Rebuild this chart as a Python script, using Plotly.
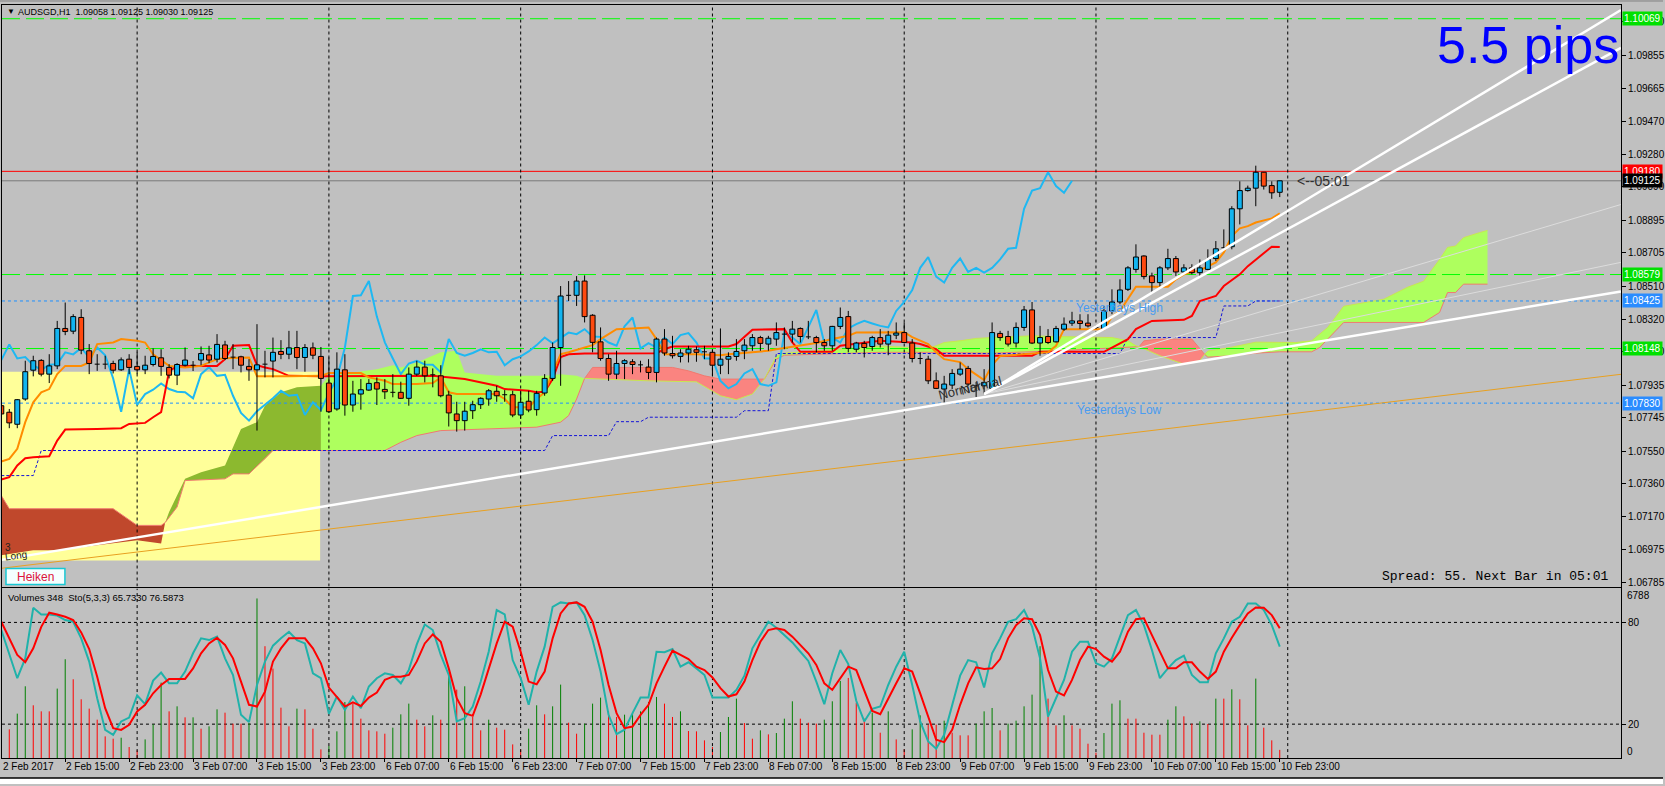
import plotly.graph_objects as go

# ---- candles (AUDSGD H1, bar 0 = 2 Feb 2017 07:00) ----
OPEN = [1.07815, 1.07777, 1.07707, 1.07854, 1.08022, 1.08079, 1.07999, 1.08047, 1.08265, 1.08249,
        1.08329, 1.08135, 1.08057, 1.08057, 1.08061, 1.08024, 1.08086, 1.08044, 1.08024, 1.08055,
        1.08094, 1.08038, 1.07993, 1.08051, 1.08051, 1.08081, 1.08111, 1.08086, 1.08169, 1.08098,
        1.08100, 1.08044, 1.08024, 1.08057, 1.08075, 1.08131, 1.08115, 1.08154, 1.08096, 1.08152,
        1.08102, 1.07947, 1.07796, 1.08024, 1.07819, 1.07883, 1.07906, 1.07949, 1.07910, 1.07893,
        1.07893, 1.07858, 1.07999, 1.08040, 1.07995, 1.07989, 1.07877, 1.07767, 1.07728, 1.07786,
        1.07821, 1.07854, 1.07899, 1.07879, 1.07879, 1.07761, 1.07841, 1.07792, 1.07889, 1.07974,
        1.08154, 1.08458, 1.08458, 1.08541, 1.08342, 1.08187, 1.08090, 1.07999, 1.08061, 1.08071,
        1.08053, 1.08040, 1.08009, 1.08203, 1.08119, 1.08102, 1.08122, 1.08141, 1.08129, 1.08126,
        1.08051, 1.08086, 1.08102, 1.08135, 1.08164, 1.08212, 1.08174, 1.08203, 1.08232, 1.08232,
        1.08265, 1.08216, 1.08212, 1.08183, 1.08164, 1.08277, 1.08334, 1.08144, 1.08178, 1.08160,
        1.08212, 1.08174, 1.08226, 1.08241, 1.08180, 1.08090, 1.08086, 1.07960, 1.07912, 1.07935,
        1.07999, 1.08032, 1.07931, 1.07931, 1.07916, 1.08236, 1.08218, 1.08180, 1.08271, 1.08373,
        1.08180, 1.08218, 1.08187, 1.08261, 1.08296, 1.08309, 1.08296, 1.08271, 1.08265, 1.08367,
        1.08419, 1.08493, 1.08609, 1.08687, 1.08571, 1.08532, 1.08618, 1.08672, 1.08594, 1.08618,
        1.08590, 1.08609, 1.08672, 1.08735, 1.08741, 1.08962, 1.09068, 1.09082, 1.09175, 1.09097,
        1.09058]
HIGH = [1.07895, 1.07796, 1.07854, 1.08077, 1.08106, 1.08086, 1.08115, 1.08309, 1.08416, 1.08348,
        1.08377, 1.08174, 1.08115, 1.08106, 1.08077, 1.08096, 1.08115, 1.08129, 1.08106, 1.08149,
        1.08144, 1.08057, 1.08063, 1.08154, 1.08075, 1.08160, 1.08164, 1.08232, 1.08193, 1.08174,
        1.08106, 1.08086, 1.08290, 1.08135, 1.08212, 1.08197, 1.08251, 1.08251, 1.08174, 1.08183,
        1.08157, 1.08096, 1.08126, 1.08115, 1.07960, 1.07970, 1.07970, 1.07980, 1.07970, 1.07999,
        1.07955, 1.08038, 1.08077, 1.08077, 1.08032, 1.08051, 1.07902, 1.07838, 1.07838, 1.07844,
        1.07864, 1.07912, 1.07931, 1.07906, 1.07902, 1.07902, 1.07902, 1.07902, 1.07999, 1.08183,
        1.08512, 1.08541, 1.08570, 1.08574, 1.08348, 1.08271, 1.08115, 1.08135, 1.08086, 1.08086,
        1.08077, 1.08086, 1.08212, 1.08261, 1.08222, 1.08144, 1.08164, 1.08160, 1.08164, 1.08144,
        1.08265, 1.08126, 1.08203, 1.08203, 1.08232, 1.08222, 1.08222, 1.08300, 1.08271, 1.08309,
        1.08271, 1.08309, 1.08222, 1.08203, 1.08280, 1.08387, 1.08367, 1.08187, 1.08193, 1.08222,
        1.08261, 1.08251, 1.08300, 1.08300, 1.08203, 1.08126, 1.08106, 1.08009, 1.07989, 1.08028,
        1.08067, 1.08047, 1.07953, 1.08028, 1.08300, 1.08251, 1.08251, 1.08300, 1.08396, 1.08419,
        1.08280, 1.08261, 1.08280, 1.08329, 1.08362, 1.08348, 1.08348, 1.08280, 1.08396, 1.08493,
        1.08551, 1.08628, 1.08755, 1.08691, 1.08590, 1.08628, 1.08729, 1.08687, 1.08639, 1.08639,
        1.08667, 1.08726, 1.08774, 1.08842, 1.08977, 1.09122, 1.09097, 1.09213, 1.09175, 1.09122,
        1.09125]
LOW = [1.07757, 1.07684, 1.07684, 1.07844, 1.07986, 1.07986, 1.07947, 1.08028, 1.08226, 1.08232,
       1.08115, 1.07999, 1.08018, 1.08028, 1.08003, 1.08018, 1.07999, 1.07999, 1.07999, 1.08044,
       1.07989, 1.07974, 1.07935, 1.08044, 1.08017, 1.08051, 1.08063, 1.08067, 1.08081, 1.08028,
       1.08009, 1.07960, 1.07670, 1.07980, 1.07980, 1.08086, 1.08086, 1.08028, 1.08013, 1.08086,
       1.07780, 1.07773, 1.07786, 1.07757, 1.07780, 1.07792, 1.07902, 1.07819, 1.07854, 1.07864,
       1.07854, 1.07815, 1.07989, 1.07951, 1.07922, 1.07864, 1.07694, 1.07664, 1.07670, 1.07738,
       1.07796, 1.07815, 1.07838, 1.07838, 1.07748, 1.07738, 1.07777, 1.07757, 1.07873, 1.07960,
       1.07931, 1.08425, 1.08396, 1.08300, 1.08126, 1.08077, 1.07960, 1.07970, 1.07970, 1.07999,
       1.08009, 1.07970, 1.07951, 1.08106, 1.08090, 1.08067, 1.08067, 1.08071, 1.08086, 1.07989,
       1.07999, 1.07999, 1.08077, 1.08086, 1.08135, 1.08135, 1.08135, 1.08164, 1.08144, 1.08183,
       1.08183, 1.08203, 1.08126, 1.08135, 1.08135, 1.08261, 1.08126, 1.08126, 1.08096, 1.08135,
       1.08154, 1.08109, 1.08203, 1.08180, 1.08067, 1.08057, 1.07941, 1.07912, 1.07825, 1.07912,
       1.07989, 1.07931, 1.07866, 1.07883, 1.07912, 1.08193, 1.08160, 1.08154, 1.08251, 1.08174,
       1.08106, 1.08174, 1.08183, 1.08251, 1.08280, 1.08261, 1.08271, 1.08261, 1.08261, 1.08348,
       1.08406, 1.08483, 1.08590, 1.08551, 1.08470, 1.08509, 1.08605, 1.08571, 1.08580, 1.08580,
       1.08567, 1.08605, 1.08658, 1.08726, 1.08726, 1.08871, 1.09062, 1.08977, 1.09074, 1.09020,
       1.09030]
CLOSE = [1.07767, 1.07715, 1.07850, 1.08013, 1.08077, 1.07999, 1.08047, 1.08265, 1.08247, 1.08334,
         1.08139, 1.08061, 1.08057, 1.08057, 1.08022, 1.08082, 1.08038, 1.08024, 1.08051, 1.08102,
         1.08044, 1.07993, 1.08055, 1.08081, 1.08051, 1.08119, 1.08081, 1.08172, 1.08090, 1.08098,
         1.08051, 1.08024, 1.08053, 1.08057, 1.08126, 1.08114, 1.08152, 1.08096, 1.08154, 1.08109,
         1.07974, 1.07780, 1.08028, 1.07819, 1.07883, 1.07908, 1.07945, 1.07912, 1.07896, 1.07893,
         1.07858, 1.07999, 1.08040, 1.07989, 1.07995, 1.07873, 1.07773, 1.07728, 1.07783, 1.07821,
         1.07858, 1.07902, 1.07873, 1.07879, 1.07761, 1.07835, 1.07790, 1.07887, 1.07974, 1.08154,
         1.08454, 1.08458, 1.08541, 1.08334, 1.08184, 1.08090, 1.07999, 1.08061, 1.08077, 1.08055,
         1.08053, 1.08009, 1.08203, 1.08122, 1.08106, 1.08122, 1.08144, 1.08126, 1.08129, 1.08051,
         1.08086, 1.08102, 1.08131, 1.08168, 1.08212, 1.08178, 1.08208, 1.08241, 1.08232, 1.08261,
         1.08218, 1.08216, 1.08183, 1.08164, 1.08277, 1.08329, 1.08149, 1.08180, 1.08154, 1.08212,
         1.08174, 1.08226, 1.08238, 1.08183, 1.08090, 1.08090, 1.07960, 1.07916, 1.07941, 1.08003,
         1.08028, 1.07941, 1.07931, 1.07951, 1.08241, 1.08212, 1.08174, 1.08271, 1.08373, 1.08180,
         1.08212, 1.08183, 1.08265, 1.08290, 1.08309, 1.08294, 1.08280, 1.08271, 1.08367, 1.08419,
         1.08489, 1.08618, 1.08681, 1.08567, 1.08532, 1.08618, 1.08672, 1.08594, 1.08618, 1.08590,
         1.08618, 1.08667, 1.08729, 1.08735, 1.08962, 1.09068, 1.09082, 1.09175, 1.09094, 1.09055,
         1.09125]

# ---- ichimoku lines (bar index, price) ----
TENKAN_BAR = [0, 1, 2, 3, 4, 5, 6, 7, 8, 10, 11, 12, 14, 15, 17, 18, 19, 21, 23, 25, 27, 28, 31, 32, 36,
              40, 41, 45, 46, 48, 49, 52, 54, 55, 56, 57, 62, 63, 64, 66, 67, 68, 69, 70, 71, 73, 74, 75,
              76, 77, 79, 81, 82, 83, 87, 90, 91, 96, 97, 100, 102, 104, 106, 107, 113, 114, 116, 117,
              118, 120, 121, 123, 124, 125, 128, 131, 132, 133, 138, 139, 140, 141, 142, 146, 147, 148,
              150, 152, 153, 154, 155, 156, 157, 159, 160]
TENKAN = [1.07490, 1.07505, 1.07564, 1.07719, 1.07835, 1.07893, 1.07912, 1.07999, 1.08047,
          1.08047, 1.08067, 1.08174, 1.08183, 1.08203, 1.08193, 1.08183, 1.08115,
          1.08047, 1.08038, 1.08047, 1.08086, 1.08092, 1.08096, 1.07986, 1.07986,
          1.07989, 1.08005, 1.08005, 1.07980, 1.07960, 1.07941, 1.07941,
          1.07947, 1.07980, 1.07893, 1.07883, 1.07883, 1.07854, 1.07806, 1.07806,
          1.07854, 1.07893, 1.08009, 1.08115, 1.08126, 1.08154, 1.08168, 1.08203, 1.08232, 1.08261,
          1.08265, 1.08271, 1.08203, 1.08115, 1.08115, 1.08109, 1.08115, 1.08135, 1.08144,
          1.08164, 1.08180, 1.08203, 1.08222, 1.08241, 1.08243, 1.08214, 1.08174, 1.08127, 1.08086,
          1.08069, 1.08028, 1.07964, 1.08051, 1.08104, 1.08115, 1.08126, 1.08164, 1.08261,
          1.08261, 1.08333, 1.08367, 1.08441, 1.08508, 1.08508, 1.08551, 1.08580, 1.08603,
          1.08650, 1.08708, 1.08803, 1.08848, 1.08861, 1.08882, 1.08906, 1.08935]

KIJUN_BAR = [0, 1, 2, 3, 4, 6, 7, 8, 12, 15, 16, 18, 19, 20, 21, 22, 23, 27, 28, 29, 31, 32, 33, 34, 36,
             40, 54, 58, 62, 63, 66, 67, 68, 69, 70, 71, 73, 82, 83, 84, 91, 92, 94, 98, 99, 100, 104,
             105, 110, 114, 115, 117, 118, 129, 130, 138, 139, 141, 142, 144, 148, 149, 150, 152, 153,
             155, 156, 158, 159, 160]
KIJUN = [1.07385, 1.07399, 1.07467, 1.07509, 1.07515, 1.07521, 1.07612, 1.07676,
         1.07680, 1.07684, 1.07709, 1.07715, 1.07748, 1.07778, 1.08017, 1.08046, 1.08047,
         1.08047, 1.08086, 1.08164, 1.08168, 1.08051, 1.08038, 1.08028, 1.07989,
         1.07986, 1.07989, 1.07970, 1.07931, 1.07912, 1.07902, 1.07893, 1.07896, 1.07970, 1.08098, 1.08115,
         1.08119, 1.08121, 1.08144, 1.08160, 1.08160, 1.08174, 1.08257, 1.08261, 1.08183, 1.08129,
         1.08129, 1.08164, 1.08193, 1.08183, 1.08174, 1.08144, 1.08106,
         1.08106, 1.08129, 1.08129, 1.08154, 1.08203, 1.08261, 1.08309, 1.08315, 1.08338, 1.08425,
         1.08454, 1.08512, 1.08580, 1.08628, 1.08706, 1.08741, 1.08739]

CHIKOU_SHIFT = 26

SPAN_A_BAR = [0, 4, 7, 17, 20, 20.5, 21, 23, 25, 28, 30, 32, 33, 35, 37, 40, 41, 47, 49, 50,
              52, 55, 57, 58, 62, 68, 70, 72, 73, 81, 87, 90, 92, 94, 95, 95.5, 97, 98, 110, 116,
              117, 118, 120, 122, 124, 129, 132, 136, 139, 141, 142, 142.4, 145, 148, 150, 150.6,
              151, 154, 157, 162, 164, 165, 166, 168, 170, 173, 176, 178, 180, 181, 182, 183, 185, 186]
SPAN_A = [1.06944, 1.06973, 1.06973, 1.07031, 1.07012, 1.07134, 1.07196, 1.07389, 1.07428, 1.07467,
          1.07680, 1.07719, 1.07815, 1.07893, 1.07922, 1.07931, 1.07989, 1.08028, 1.08051, 1.08038,
          1.08067, 1.08126, 1.08135, 1.08009, 1.07989, 1.07989, 1.07999, 1.07989, 1.07974, 1.07960,
          1.07954, 1.07873, 1.07850, 1.07883, 1.07941, 1.07970, 1.08104, 1.08121, 1.08162, 1.08150,
          1.08164, 1.08183, 1.08193, 1.08207, 1.08212, 1.08222, 1.08218, 1.08216, 1.08212, 1.08193,
          1.08164, 1.08159, 1.08106, 1.08057, 1.08077, 1.08114, 1.08133, 1.08156, 1.08185, 1.08183,
          1.08193, 1.08232, 1.08271, 1.08394, 1.08412, 1.08435, 1.08505, 1.08540, 1.08667, 1.08737,
          1.08745, 1.08794, 1.08823, 1.08836]
SPAN_B_BAR = [0, 1, 14, 17, 20, 20.5, 22, 23, 28, 29, 31, 33, 34, 40, 48, 50, 52, 55, 62, 67,
              70, 71, 72, 73, 74, 84, 86, 88, 90, 95, 95.5, 97, 98, 110, 116, 124, 128, 132, 136, 139,
              142, 142.4, 143, 145, 149, 150, 150.6, 151, 154, 157, 160, 164, 165, 166, 168, 178, 179,
              180, 181, 182, 183, 186]
SPAN_B = [1.07292, 1.07215, 1.07215, 1.07118, 1.07118, 1.07134, 1.07225, 1.07379, 1.07389, 1.07418,
          1.07418, 1.07505, 1.07554, 1.07554, 1.07554, 1.07602, 1.07641, 1.07670, 1.07680, 1.07690,
          1.07719, 1.07757, 1.07854, 1.07974, 1.08038, 1.08038, 1.08018, 1.07989, 1.07970, 1.07970,
          1.07970, 1.08086, 1.08109, 1.08126, 1.08126, 1.08121, 1.08126, 1.08135, 1.08144, 1.08149,
          1.08154, 1.08159, 1.08193, 1.08203, 1.08203, 1.08144, 1.08114, 1.08098, 1.08106, 1.08121,
          1.08129, 1.08129, 1.08154, 1.08203, 1.08300, 1.08300, 1.08329, 1.08358, 1.08474, 1.08474,
          1.08523, 1.08523]
CLOUD_EDGES = [0, 20.5, 40, 73, 95.5, 142.4, 150.6, 186]
CLOUD_COLORS = ['#C0482C', '#8CB92F', '#AEFF5E', '#FA8480', '#AEFF5E', '#FA8480', '#AEFF5E']

# stepped dotted line (previous day range)
STEP_BAR = [0, 4, 5, 68, 69, 76, 77, 80, 81, 92, 93, 96, 97, 140, 141, 152, 153, 156, 157, 160]
STEP = [1.07408, 1.07408, 1.07554, 1.07554, 1.07641, 1.07641, 1.07722, 1.07722, 1.07748, 1.07748,
        1.07786, 1.07786, 1.08119, 1.08119, 1.08212, 1.08212, 1.08396, 1.08396, 1.08425, 1.08425]

# horizontal levels
LEVELS = [1.10069, 1.09180, 1.09125, 1.08579, 1.08425, 1.08148, 1.07830]
LEVEL_COLORS = ['#00FF00', '#FF0000', '#7A7A7A', '#00FF00', '#1E90FF', '#00FF00', '#1E90FF']
LEVEL_DASH = ['18px,6px', 'solid', 'solid', '18px,6px', '3px,3px', '18px,6px', '3px,3px']
LEVEL_BOX = ['#00E000', '#FF0000', '#000000', '#00E000', '#2A8CFF', '#00E000', '#2A8CFF']

# trend lines: (bar, price) end points
TREND_MAIN_BAR = [0, 202.7]
TREND_MAIN = [1.06917, 1.08480]
TREND_ORANGE_BAR = [0, 202.7]
TREND_ORANGE = [1.06868, 1.07998]
FAN_BAR = [123, 202.7]
FAN_ORIGIN = 1.07883
FAN_THICK_END = [1.10120, 1.09899]
FAN_THIN_END = [1.08987, 1.08650]

# rectangle object at the left
BOX_BARS = [-1, 39.9]
BOX_PRICES = [1.06914, 1.08013]

# ---- volumes and stochastic (5,3,3) ----
VOLUME = [1392, 1221, 1889, 3053, 2244, 1988, 1988, 2954, 4203, 3351,
          2499, 2102, 1633, 923, 824, 866, 469, 327, 795, 1434,
          3209, 1988, 2201, 1732, 1732, 1250, 1349, 2073, 1931, 1463,
          1463, 1491, 6788, 4757, 3806, 2144, 1349, 2102, 2073, 1250,
          369, 511, 1136, 2386, 2315, 1676, 1179, 1136, 1037, 1292,
          1860, 2315, 1633, 1349, 1818, 1633, 3593, 2911, 3053, 1747,
          1179, 1633, 1292, 1207, 582, 369, 1250, 2244, 1860, 2201,
          3124, 1505, 1037, 1463, 2315, 2570, 1988, 1747, 1846, 1960,
          1988, 2386, 2599, 2315, 1747, 1988, 1150, 1136, 753, 469,
          1108, 1747, 2528, 1491, 824, 1179, 1008, 1065, 1676, 2414,
          1676, 1505, 1463, 1633, 2414, 3280, 3408, 2357, 1676, 1931,
          1079, 1988, 795, 369, 1221, 1818, 1420, 1420, 1590, 1079,
          966, 966, 1463, 1988, 2130, 1179, 1463, 1590, 2201, 2698,
          4757, 2528, 1392, 1818, 1392, 1250, 611, 227, 1065, 2315,
          2457, 1676, 1676, 1079, 994, 994, 1633, 2201, 1775, 1463,
          1562, 1448, 2528, 2528, 2925, 2499, 1392, 3380, 1292, 753,
          348]
VOL_COLOR = ("rrggrrrggr" "rrrrrgrrgg" "grgrgrggrr" "rggrrrrgrr" "rgggrrrrrg"
             "ggrrgrgrgr" "rgrrrrggrg" "grrgggrrgg" "gggrrgrrrr" "gggrrgrggg"
             "rrrgggrrrg" "rgrrggrrgr" "rrgggrgggg" "grrgrrrrgg" "grrrrrggrr"
             "grgrgrrgrr" "r")
STOCH_K = [75.5, 60.8, 47.1, 58.8, 88.6, 84.7, 84.7, 84.0, 81.4, 80.4,
           70.6, 56.9, 35.3, 16.6, 13.7, 21.6, 23.9, 36.9, 31.8, 45.7,
           50.4, 44.1, 44.1, 51.0, 61.8, 70.6, 69.6, 71.6, 58.8, 49.0,
           25.5, 21.2, 43.1, 56.9, 66.3, 70.6, 74.5, 69.6, 67.6, 50.0,
           47.1, 26.1, 36.3, 28.4, 36.3, 29.4, 42.2, 47.1, 50.0, 49.0,
           44.1, 52.0, 67.0, 78.8, 75.5, 60.8, 49.0, 21.6, 23.5, 30.4,
           45.1, 62.7, 87.3, 84.7, 57.8, 47.1, 31.4, 51.0, 65.7, 89.2,
           91.8, 91.2, 91.8, 84.3, 69.6, 51.0, 25.5, 14.1, 16.7, 26.5,
           35.7, 35.7, 62.7, 62.4, 64.3, 53.9, 56.5, 52.9, 49.0, 35.7,
           35.7, 35.7, 40.2, 48.6, 64.7, 72.9, 80.4, 76.9, 72.5, 68.2,
           62.7, 57.3, 45.1, 31.8, 50.0, 63.7, 55.4, 33.8, 21.6, 29.0,
           30.4, 43.1, 53.9, 62.7, 43.1, 21.6, 9.8, 5.5, 13.7, 31.4,
           48.6, 57.8, 56.5, 41.6, 61.8, 70.6, 80.4, 81.9, 87.3, 77.5,
           58.8, 24.5, 35.3, 46.1, 62.7, 68.6, 68.6, 55.9, 53.9, 58.8,
           71.6, 84.3, 87.3, 78.4, 63.7, 47.1, 52.9, 57.8, 60.4, 49.0,
           44.7, 44.7, 61.8, 70.6, 80.4, 83.3, 91.2, 91.2, 87.3, 78.4,
           65.733]
STOCH_D = [80.4, 70.6, 60.8, 56.5, 64.7, 77.4, 85.7, 84.7, 83.3, 81.4,
           74.1, 64.3, 48.0, 29.4, 17.6, 16.6, 19.6, 27.5, 31.4, 38.2,
           43.1, 46.7, 46.7, 46.7, 52.9, 61.8, 67.6, 70.9, 66.7, 58.8,
           45.1, 31.4, 30.4, 39.2, 56.9, 64.7, 70.6, 70.6, 70.6, 64.7,
           55.9, 41.6, 36.3, 30.4, 32.9, 30.7, 35.7, 38.6, 46.1, 48.0,
           48.0, 49.0, 57.0, 67.6, 72.9, 68.6, 52.9, 35.3, 26.5, 24.9,
           37.6, 52.9, 67.6, 80.4, 77.5, 62.7, 45.1, 43.5, 51.0, 70.6,
           85.3, 91.2, 91.8, 89.2, 80.4, 63.7, 43.1, 26.5, 17.6, 18.6,
           25.5, 31.4, 44.1, 53.9, 63.3, 60.8, 58.4, 53.9, 51.9, 47.5,
           41.2, 36.3, 37.6, 45.1, 57.8, 68.6, 75.5, 76.5, 75.5, 71.6,
           66.7, 61.8, 54.9, 44.1, 40.2, 47.0, 53.9, 51.9, 40.2, 27.8,
           25.9, 35.3, 44.1, 52.9, 51.0, 38.2, 24.5, 10.8, 9.4, 16.7,
           31.4, 44.1, 53.5, 52.5, 52.9, 58.4, 70.6, 78.4, 82.4, 81.9,
           72.5, 51.9, 39.2, 36.9, 46.1, 57.8, 65.7, 64.3, 59.8, 56.9,
           62.7, 74.5, 81.9, 82.4, 72.5, 62.7, 52.9, 52.9, 56.5, 56.5,
           51.0, 46.7, 51.0, 62.7, 71.0, 78.4, 85.3, 88.8, 88.6, 84.3,
           76.587]

# ---- axes ----
PRICE_TICKS = [1.06785, 1.06975, 1.07170, 1.07360, 1.07550, 1.07745, 1.07935, 1.08130, 1.08320,
               1.08510, 1.08705, 1.08895, 1.09090, 1.09280, 1.09470, 1.09665, 1.09855, 1.10050]
DATE_LABELS = ["2 Feb 2017", "2 Feb 15:00", "2 Feb 23:00", "3 Feb 07:00", "3 Feb 15:00", "3 Feb 23:00",
               "6 Feb 07:00", "6 Feb 15:00", "6 Feb 23:00", "7 Feb 07:00", "7 Feb 15:00", "7 Feb 23:00",
               "8 Feb 07:00", "8 Feb 15:00", "8 Feb 23:00", "9 Feb 07:00", "9 Feb 15:00", "9 Feb 23:00",
               "10 Feb 07:00", "10 Feb 15:00", "10 Feb 23:00"]
DATE_BARS = list(range(0, 161, 8))
DAY_BREAKS = [17, 41, 65, 89, 113, 137, 161]

W, H = 1665, 786
X_RANGE = [0.0875, 202.7125]
Y_RANGE = [1.06762, 1.10149]
VOL_MAX = 7212
BODY_W = 0.62
BG = '#C0C0C0'
FONT = 'Liberation Sans, Arial, sans-serif'


def px(x):
    return x / W


def py(y):
    return 1 - y / H


def label(x, y, text, size=10, color='black', xanchor='left', **kw):
    return dict(x=px(x), y=py(y), xref='paper', yref='paper', text=text, showarrow=False,
                xanchor=xanchor, yanchor='middle', font=dict(size=size, color=color,
                                                              family=kw.pop('family', FONT)), **kw)


BARS = list(range(len(CLOSE)))
fig = go.Figure()

# cloud
for lo, hi, col in zip(CLOUD_EDGES[:-1], CLOUD_EDGES[1:], CLOUD_COLORS):
    ax = [b for b in SPAN_A_BAR if lo <= b <= hi]
    ay = [v for b, v in zip(SPAN_A_BAR, SPAN_A) if lo <= b <= hi]
    bx = [b for b in SPAN_B_BAR if lo <= b <= hi]
    by = [v for b, v in zip(SPAN_B_BAR, SPAN_B) if lo <= b <= hi]
    fig.add_trace(go.Scatter(x=ax + bx[::-1], y=ay + by[::-1], fill='toself', fillcolor=col,
                             mode='lines', line=dict(width=0), hoverinfo='skip'))
fig.add_trace(go.Scatter(x=SPAN_B_BAR, y=SPAN_B, mode='lines', line=dict(color='#F07A70', width=1)))
fig.add_trace(go.Scatter(x=SPAN_A_BAR[28:], y=SPAN_A[28:], mode='lines',
                         line=dict(color='#C8E850', width=1)))

# horizontal levels
for lv, col, dash in zip(LEVELS, LEVEL_COLORS, LEVEL_DASH):
    fig.add_trace(go.Scatter(x=X_RANGE, y=[lv, lv], mode='lines',
                             line=dict(color=col, width=1, dash=dash)))

# day separators
sx, sy = [], []
for b in DAY_BREAKS:
    sx += [b, b, None]
    sy += [Y_RANGE[0], Y_RANGE[1], None]
fig.add_trace(go.Scatter(x=sx, y=sy, mode='lines', line=dict(color='black', width=1, dash='3px,3px')))

# stepped line, chikou, kijun, tenkan
fig.add_trace(go.Scatter(x=STEP_BAR, y=STEP, mode='lines', line=dict(color='#1414D8', width=1, dash='3px,2px')))
fig.add_trace(go.Scatter(x=BARS[:len(CLOSE) - CHIKOU_SHIFT], y=CLOSE[CHIKOU_SHIFT:], mode='lines',
                         line=dict(color='#1EB8F2', width=2)))
fig.add_trace(go.Scatter(x=KIJUN_BAR, y=KIJUN, mode='lines', line=dict(color='#FF0000', width=2)))
fig.add_trace(go.Scatter(x=TENKAN_BAR, y=TENKAN, mode='lines', line=dict(color='#FF8C00', width=2)))

# candles: wicks, bodies (filled rectangles), doji ticks
wx, wy = [], []
for i in BARS:
    wx += [i, i, None]
    wy += [LOW[i], HIGH[i], None]
fig.add_trace(go.Scatter(x=wx, y=wy, mode='lines', line=dict(color='black', width=1)))
half = BODY_W / 2
for up, col in ((True, '#12B4F0'), (False, '#FF4A10')):
    bx, by = [], []
    for i in BARS:
        if CLOSE[i] != OPEN[i] and (CLOSE[i] > OPEN[i]) == up:
            lo, hi = min(OPEN[i], CLOSE[i]), max(OPEN[i], CLOSE[i])
            bx += [i - half, i + half, i + half, i - half, i - half, None]
            by += [lo, lo, hi, hi, lo, None]
    fig.add_trace(go.Scatter(x=bx, y=by, mode='lines', fill='toself', fillcolor=col,
                             line=dict(color='black', width=1)))
dx, dy = [], []
for i in BARS:
    if CLOSE[i] == OPEN[i]:
        dx += [i - half, i + half, None]
        dy += [CLOSE[i], CLOSE[i], None]
fig.add_trace(go.Scatter(x=dx, y=dy, mode='lines', line=dict(color='black', width=1)))

# trend lines
fig.add_trace(go.Scatter(x=TREND_ORANGE_BAR, y=TREND_ORANGE, mode='lines', line=dict(color='#E8A020', width=1)))
for end in FAN_THIN_END:
    fig.add_trace(go.Scatter(x=FAN_BAR, y=[FAN_ORIGIN, end], mode='lines', line=dict(color='#DCDCDC', width=1)))
for end in FAN_THICK_END:
    fig.add_trace(go.Scatter(x=FAN_BAR, y=[FAN_ORIGIN, end], mode='lines', line=dict(color='white', width=2.5)))
fig.add_trace(go.Scatter(x=TREND_MAIN_BAR, y=TREND_MAIN, mode='lines', line=dict(color='white', width=2.5)))

# sub window: volumes (y2) and stochastic (y3)
for code, col in (('g', '#008000'), ('r', '#FF0000')):
    vx, vy = [], []
    for i, (v, c) in enumerate(zip(VOLUME, VOL_COLOR)):
        if c == code:
            vx += [i, i, None]
            vy += [0, v, None]
    fig.add_trace(go.Scatter(x=vx, y=vy, mode='lines', line=dict(color=col, width=1),
                             xaxis='x2', yaxis='y2'))
sx2, sy2 = [], []
for b in DAY_BREAKS:
    sx2 += [b, b, None]
    sy2 += [0, 100, None]
fig.add_trace(go.Scatter(x=sx2, y=sy2, mode='lines', line=dict(color='black', width=1, dash='3px,3px'),
                         xaxis='x2', yaxis='y3'))
fig.add_trace(go.Scatter(x=BARS, y=STOCH_K, mode='lines', line=dict(color='#20B2AA', width=2),
                         xaxis='x2', yaxis='y3'))
fig.add_trace(go.Scatter(x=BARS, y=STOCH_D, mode='lines', line=dict(color='#FF0000', width=2),
                         xaxis='x2', yaxis='y3'))

shapes = [
    dict(type='rect', xref='x', yref='y', x0=BOX_BARS[0], x1=BOX_BARS[1], y0=BOX_PRICES[0], y1=BOX_PRICES[1],
         fillcolor='#FFFF99', line=dict(width=0), layer='below'),
    dict(type='line', xref='x2', yref='y3', x0=X_RANGE[0], x1=X_RANGE[1], y0=80, y1=80,
         line=dict(color='black', width=1, dash='3px,3px'), layer='below'),
    dict(type='line', xref='x2', yref='y3', x0=X_RANGE[0], x1=X_RANGE[1], y0=20, y1=20,
         line=dict(color='black', width=1, dash='3px,3px'), layer='below'),
    dict(type='rect', xref='paper', yref='paper', x0=0, x1=1, y0=0, y1=py(780),
         fillcolor='white', line=dict(width=0)),
    dict(type='line', xref='paper', yref='paper', x0=0, x1=1, y0=py(780), y1=py(780),
         line=dict(color='black', width=1.5)),
    dict(type='line', xref='paper', yref='paper', x0=0, x1=1, y0=py(1), y1=py(1),
         line=dict(color='#808080', width=1)),
    dict(type='rect', xref='paper', yref='paper', x0=px(6), x1=px(65), y0=py(586), y1=py(570),
         fillcolor='#F4FFFF', line=dict(color='#18C8D4', width=1.5)),
]

ann = []
for b, t in zip(DATE_BARS, DATE_LABELS):
    ann.append(dict(x=max(b, X_RANGE[0]), xref='x2', y=py(768), yref='paper', text=t, showarrow=False,
                    xanchor='left', yanchor='middle', xshift=-1,
                    font=dict(size=10, color='black', family=FONT)))
for lv, col in zip(LEVELS, LEVEL_BOX):
    ann.append(dict(x=px(1624), xref='paper', y=lv, yref='y', text=f"{lv:.5f}", showarrow=False,
                    xanchor='left', yanchor='middle', bgcolor=col, borderpad=1,
                    font=dict(size=10, color='white', family=FONT)))
ann += [
    label(5, 12, '▼', size=8),
    label(16, 12, 'AUDSGD,H1  1.09058 1.09125 1.09030 1.09125', size=9),
    label(6, 599, 'Volumes 348  Sto(5,3,3) 65.7330 76.5873', size=9.5),
    label(1437, 45, '5.5 pips', size=52, color='#0000FF'),
    label(1612, 578, 'Spread: 55. Next Bar in 05:01', size=13, xanchor='right',
          family='Liberation Mono, Courier New, monospace'),
    label(1297, 181, '<--05:01', size=14, color='#303030'),
    label(3, 549, '3', color='#202020'),
    label(2, 557, 'Long', color='#202020', textangle=-8),
    label(35.5, 578, 'Heiken', size=12, color='#DC143C', xanchor='center'),
    label(1627, 597, '6788'),
    label(1627, 753, '0'),
    dict(x=140, y=1.08383, text='Yesterdays High', showarrow=False,
         font=dict(size=12, color='#4A9CF0', family=FONT)),
    dict(x=140, y=1.07790, text='Yesterdays Low', showarrow=False,
         font=dict(size=12, color='#4A9CF0', family=FONT)),
    dict(x=119.8, y=1.07905, text='Normal', showarrow=False, textangle=-14,
         font=dict(size=13, color='#303030', family=FONT)),
    dict(x=122.6, y=1.07935, text='Normal', showarrow=False, textangle=-14,
         font=dict(size=13, color='#303030', family=FONT)),
]

frame = dict(showline=True, linecolor='black', linewidth=1, mirror=True, showgrid=False, zeroline=False)
fig.update_layout(
    width=W, height=H, margin=dict(l=0, r=0, t=0, b=0),
    paper_bgcolor=BG, plot_bgcolor=BG, showlegend=False,
    font=dict(family=FONT, size=10, color='black'),
    xaxis=dict(domain=[px(2), px(1623)], range=X_RANGE, anchor='y', showticklabels=False, **frame),
    yaxis=dict(domain=[py(588), py(5)], range=Y_RANGE, side='right', anchor='x',
               tickvals=PRICE_TICKS, ticktext=[f"{v:.5f}" for v in PRICE_TICKS],
               ticks='outside', ticklen=4, tickcolor='black', tickfont=dict(size=10), **frame),
    xaxis2=dict(domain=[px(2), px(1623)], range=X_RANGE, anchor='y2', showticklabels=False,
                tickvals=DATE_BARS, ticks='outside', ticklen=3, tickcolor='black', **frame),
    yaxis2=dict(domain=[py(760), py(590)], range=[0, VOL_MAX], anchor='x2', side='right',
                showticklabels=False, ticks='', **frame),
    yaxis3=dict(range=[0, 100], overlaying='y2', anchor='x2', side='right', tickvals=[20, 80],
                ticks='outside', ticklen=4, tickcolor='black', tickfont=dict(size=10),
                showgrid=False, zeroline=False, showline=False),
    shapes=shapes, annotations=ann,
)

fig.write_html("out.html", config={'displayModeBar': False},
               post_script="document.body.style.margin='0';document.body.style.overflow='hidden';")
